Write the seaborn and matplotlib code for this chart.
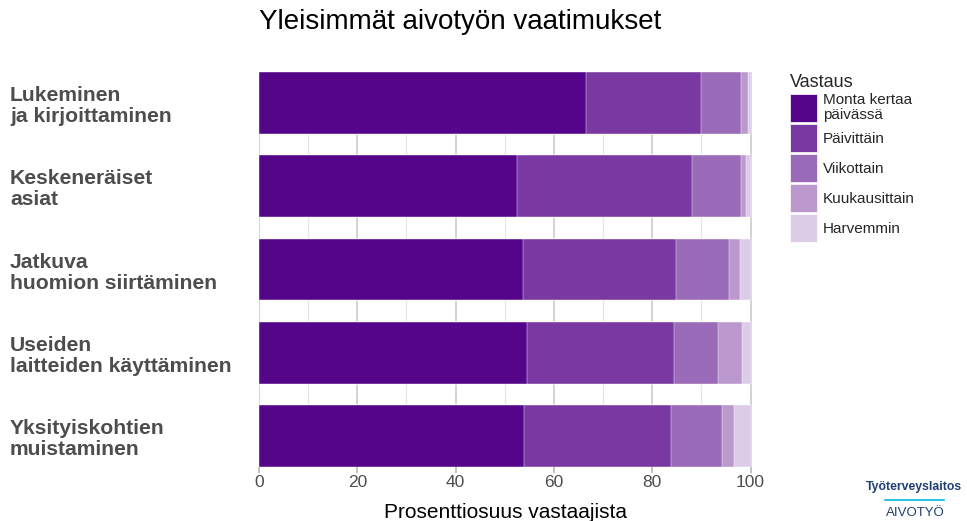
import numpy as np
import pandas as pd
import seaborn as sns
import matplotlib.pyplot as plt
from matplotlib.patches import Patch
from matplotlib.ticker import MultipleLocator

categories = ["Lukeminen\nja kirjoittaminen", "Keskeneräiset\nasiat", "Jatkuva\nhuomion siirtäminen",
              "Useiden\nlaitteiden käyttäminen", "Yksityiskohtien\nmuistaminen"]
responses = ["Monta kertaa\npäivässä", "Päivittäin", "Viikottain", "Kuukausittain", "Harvemmin"]
monta = [66.5, 52.5, 53.8, 54.6, 53.9]
paivittain = [23.4, 35.5, 31.1, 29.8, 30.0]
viikottain = [8.2, 10.1, 10.8, 8.9, 10.3]
kuukausittain = [1.4, 0.9, 2.1, 5.0, 2.4]
harvemmin = [0.5, 1.0, 2.2, 1.7, 3.4]
colors = ["#54058a", "#7a38a2", "#9a6bb8", "#bb99cf", "#dccce8"]

df = pd.DataFrame({"kategoria": categories, responses[0]: monta, responses[1]: paivittain,
                   responses[2]: viikottain, responses[3]: kuukausittain, responses[4]: harvemmin})
cum = df[responses].cumsum(axis=1)
cum["kategoria"] = categories

sns.set_theme(style="white")
plt.rcParams["font.family"] = ["Liberation Sans", "DejaVu Sans"]

fig = plt.figure(figsize=(9.67, 5.21), dpi=100)
ax = fig.add_axes([259 / 967, 1 - 467 / 521, (752 - 259) / 967, (467 - 72) / 521])

# pinotut palkit: piirretään kumulatiiviset summat suurimmasta pienimpään
for resp, col in reversed(list(zip(responses, colors))):
    sns.barplot(data=cum, x=resp, y="kategoria", color=col, orient="h", width=0.74,
                saturation=1, edgecolor="white", linewidth=0.3, ax=ax)

ax.set_xlim(0, 100.3)
ax.set_ylim(4.37, -0.37)
ax.xaxis.set_major_locator(MultipleLocator(20))
ax.xaxis.set_minor_locator(MultipleLocator(10))
ax.set_axisbelow(True)
ax.grid(which="major", axis="x", color="#c8c8c8", lw=1.1)
ax.grid(which="minor", axis="x", color="#e6e6e6", lw=0.9)
for s in ax.spines.values():
    s.set_visible(False)

ax.tick_params(axis="x", which="major", length=4, color="#bbbbbb", labelsize=12.5,
               labelcolor="#4d4d4d", pad=2, bottom=True)
ax.tick_params(axis="x", which="minor", length=0)
ax.tick_params(axis="y", length=0, pad=179.3, labelsize=15.2, labelcolor="#4d4d4d")
for t in ax.get_yticklabels():
    t.set_ha("left")
    t.set_fontweight("bold")
    t.set_linespacing(1.15)

ax.set_ylabel("")
ax.set_xlabel("Prosenttiosuus vastaajista", fontsize=15, color="black", labelpad=9)

fig.text(460 / 967, 1 - 22 / 521, "Yleisimmät aivotyön vaatimukset", fontsize=20,
         ha="center", va="center", color="black")

handles = [Patch(facecolor=c, edgecolor="white", linewidth=0.5) for c in colors]
leg = fig.legend(handles, responses, title="Vastaus", loc="upper left",
                 bbox_to_anchor=(790 / 967, 1 - 74 / 521), frameon=False,
                 fontsize=11, title_fontsize=13, handlelength=1.77, handleheight=2.44,
                 handletextpad=0.37, labelspacing=0.13, borderpad=0, borderaxespad=0,
                 alignment="left")
for t in leg.get_texts():
    t.set_linespacing(1.05)

# logo
fig.text(914 / 967, 1 - 487 / 521, "Työterveyslaitos", fontsize=8.8, fontweight="bold",
         color="#1f3f73", ha="center", va="center")
fig.add_artist(plt.Line2D([885 / 967, 944 / 967], [1 - 500 / 521, 1 - 500 / 521],
                          color="#2cc5e0", lw=1.5))
fig.text(915 / 967, 1 - 513 / 521, "AIVOTYÖ", fontsize=9.5, color="#1f3f73",
         ha="center", va="center")

fig.savefig("out.png", dpi=100)
